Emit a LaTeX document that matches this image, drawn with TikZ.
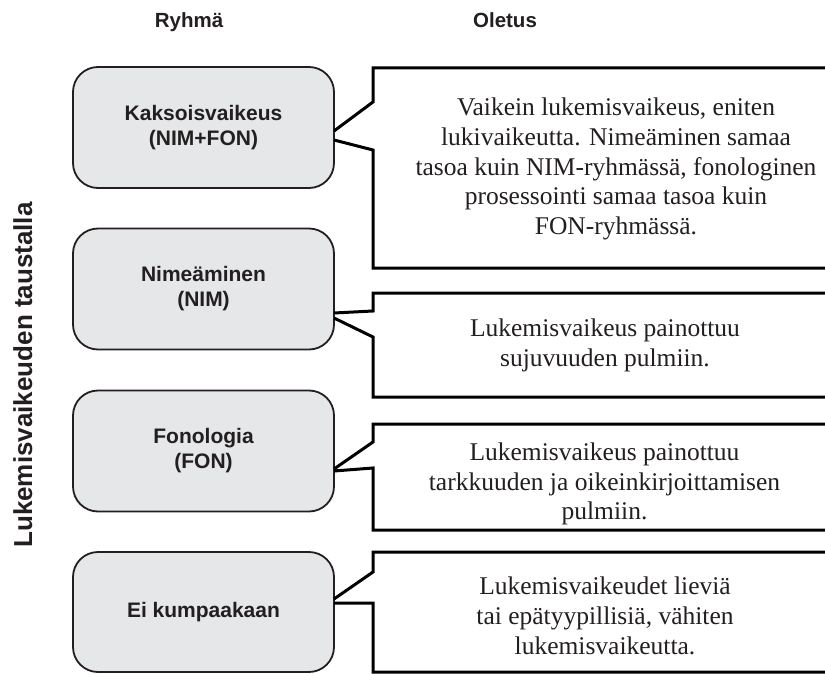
\documentclass[tikz,border=0pt]{standalone}
\usepackage{fontspec}
\setmainfont{Liberation Serif}
\setsansfont{Liberation Sans}
\definecolor{ink}{HTML}{231F20}
\definecolor{boxfill}{HTML}{E6E7E8}
\begin{document}
\begin{tikzpicture}[x=1pt,y=-1pt,
  gbox/.style={draw=ink, line width=1.8pt, fill=boxfill, rounded corners=25pt,
    minimum width=261pt, minimum height=121pt, align=center, text=ink,
    font=\sffamily\bfseries\fontsize{21}{25}\selectfont},
  callout/.style={draw=black, line width=3pt, miter limit=10},
  ctext/.style={align=center, text=ink, font=\fontsize{25.5}{29.8}\selectfont},
  head/.style={text=ink, anchor=base, font=\sffamily\bfseries\fontsize{20.5}{24}\selectfont}]
\useasboundingbox (0,0) rectangle (825,674);
\clip (0,0) rectangle (825,674);
% headers
\node[head] (h1) at (189,28) {Ryhmä};
\node[head] (h2) at (505,28) {Oletus};
% side label
\node[head, font=\sffamily\bfseries\fontsize{26}{28}\selectfont, rotate=90] (side) at (32,375) {Lukemisvaikeuden taustalla};
% group boxes
\node[gbox] (g1) at (203.5,127.5) {Kaksoisvaikeus\\(NIM+FON)};
\node[gbox] (g2) at (203.5,289) {Nimeäminen\\(NIM)};
\node[gbox] (g3) at (203.5,451) {Fonologia\\(FON)};
\node[gbox, minimum height=120pt] (g4) at (203.5,612) {Ei kumpaakaan};
% callouts
\draw[callout] (840,68) -- (373,68) -- (373,102) -- (334,131) (334,140) -- (373,150) -- (373,268) -- (840,268);
\draw[callout] (840,293) -- (373,293) -- (373,311) -- (334,313) (334,318) -- (373,337) -- (373,397) -- (840,397);
\draw[callout] (840,424) -- (373,424) -- (373,442) -- (334,469) (334,471) -- (373,468) -- (373,530) -- (840,530);
\draw[callout] (840,552) -- (373,552) -- (373,572) -- (334,599) (334,603) -- (373,603) -- (373,672) -- (840,672);
% callout texts
\node[ctext] (c1) at (616,169) {Vaikein lukemisvaikeus, eniten\\lukivaikeutta. Nimeäminen samaa\\tasoa kuin NIM-ryhmässä, fonologinen\\prosessointi samaa tasoa kuin\\FON-ryhmässä.};
\node[ctext] (c2) at (605,345) {Lukemisvaikeus painottuu\\sujuvuuden pulmiin.};
\node[ctext] (c3) at (604.5,484) {Lukemisvaikeus painottuu\\tarkkuuden ja oikeinkirjoittamisen\\pulmiin.};
\node[ctext] (c4) at (605,616) {Lukemisvaikeudet lieviä\\tai epätyypillisiä, vähiten\\lukemisvaikeutta.};
\end{tikzpicture}
\end{document}
